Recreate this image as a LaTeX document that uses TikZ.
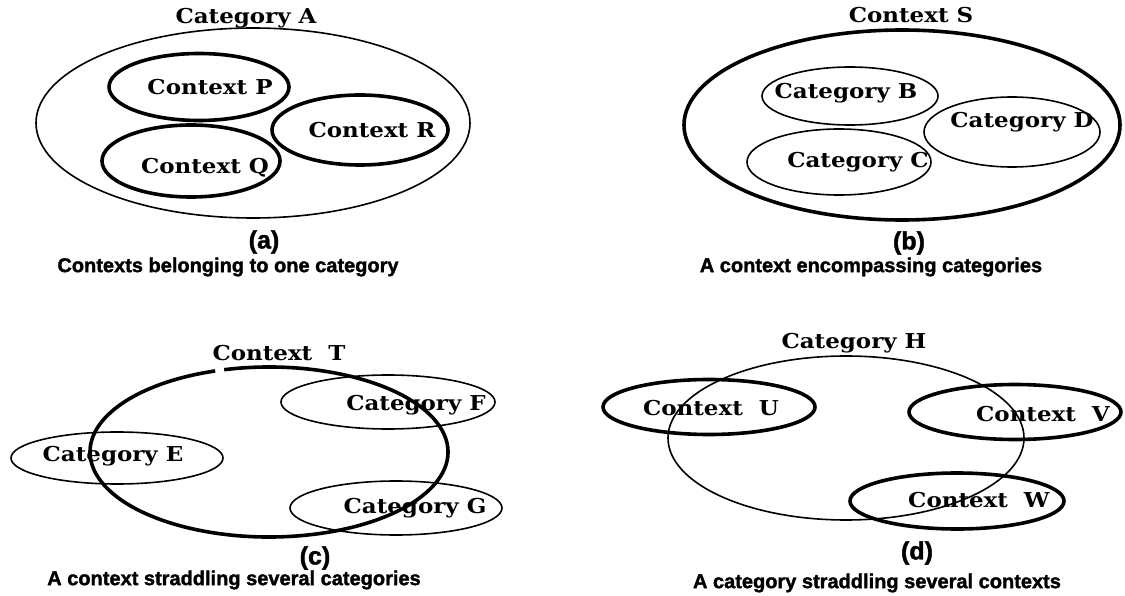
\documentclass[tikz,border=0pt]{standalone}
\usepackage{fontspec}
\usetikzlibrary{shapes.geometric,calc}
\newfontfamily\lblfam{DejaVu Serif}[FakeStretch=1.12]
\newfontfamily\capfam{Liberation Sans}[BoldFeatures={FakeBold=1.6}]
\tikzset{
  thinell/.style={ellipse, draw, line width=1.6pt, inner sep=0pt},
  thickell/.style={ellipse, draw, line width=3.6pt, inner sep=0pt},
  lbl/.style={inner sep=0pt, font=\lblfam\bfseries\fontsize{20.5}{22}\selectfont},
  captxt/.style={inner sep=0pt, font=\capfam\bfseries\fontsize{20}{22}\selectfont},
  tagtxt/.style={inner sep=0pt, font=\capfam\bfseries\fontsize{25}{27}\selectfont},
}
\begin{document}
\begin{tikzpicture}[x=1pt,y=-1pt]
\useasboundingbox (0,0) rectangle (1125,596);

% (a) contexts belonging to one category
\node[thinell, minimum width=434pt, minimum height=190pt] (catA) at (253,123) {};
\node[thickell, minimum width=180pt, minimum height=67pt] (ctxP) at (199,87) {};
\node[thickell, minimum width=176pt, minimum height=70pt] (ctxR) at (360,130) {};
\node[thickell, minimum width=178pt, minimum height=72pt] (ctxQ) at (191,161) {};
\node[lbl] (tA) at (246,18) {Category A};
\node[lbl] (tP) at (210,87) {Context P};
\node[lbl] (tR) at (372,130) {Context R};
\node[lbl] (tQ) at (205,168) {Context Q};
\node[tagtxt] (la) at (264,242) {(a)};
\node[captxt] (ca) at (228,267) {Contexts belonging to one category};

% (b) a context encompassing categories
\node[thickell, minimum width=436pt, minimum height=190pt] (ctxS) at (902,125) {};
\node[thinell, minimum width=176pt, minimum height=58pt] (catB) at (850,96) {};
\node[thinell, minimum width=176pt, minimum height=70pt] (catD) at (1012,132) {};
\node[thinell, minimum width=184pt, minimum height=66pt] (catC) at (839,162) {};
\node[lbl] (tS) at (911,15) {Context S};
\node[lbl] (tB) at (846,93) {Category B};
\node[lbl] (tD) at (1022,122) {Category D};
\node[lbl] (tC) at (858,162) {Category C};
\node[tagtxt] (lb) at (909,243) {(b)};
\node[captxt] (cb) at (871,267) {A context encompassing categories};

% (c) a context straddling several categories
\coordinate (ctT) at (269,452);
\draw[line width=3.6pt] ($(ctT)+(255.5:179 and 85)$) arc[start angle=255.5, end angle=612.5, x radius=179, y radius=85];
\node[thinell, minimum width=214pt, minimum height=54pt] (catF) at (388,402) {};
\node[thinell, minimum width=212pt, minimum height=52pt] (catE) at (117,458) {};
\node[thinell, minimum width=212pt, minimum height=54pt] (catG) at (396,508) {};
\node[lbl] (tT) at (279,353) {Context\ \ T};
\node[lbl] (tF) at (416,405) {Category F};
\node[lbl] (tE) at (113,456) {Category E};
\node[lbl] (tG) at (415,508) {Category G};
\node[tagtxt] (lc) at (315,558) {(c)};
\node[captxt] (cc) at (234,580) {A context straddling several categories};

% (d) a category straddling several contexts
\node[thinell, minimum width=356pt, minimum height=164pt] (catH) at (846,438) {};
\node[thickell, minimum width=212pt, minimum height=55pt] (ctxU) at (709,407) {};
\node[thickell, minimum width=212pt, minimum height=55pt] (ctxV) at (1015,412) {};
\node[thickell, minimum width=214pt, minimum height=56pt] (ctxW) at (957,501) {};
\node[lbl] (tH) at (854,343) {Category H};
\node[lbl] (tU) at (711,408) {Context\ \ U};
\node[lbl] (tV) at (1043,414) {Context\ \ V};
\node[lbl] (tW) at (979,500) {Context\ \ W};
\node[tagtxt] (ld) at (917,553) {(d)};
\node[captxt] (cd) at (877,583) {A category straddling several contexts};
\end{tikzpicture}
\end{document}
